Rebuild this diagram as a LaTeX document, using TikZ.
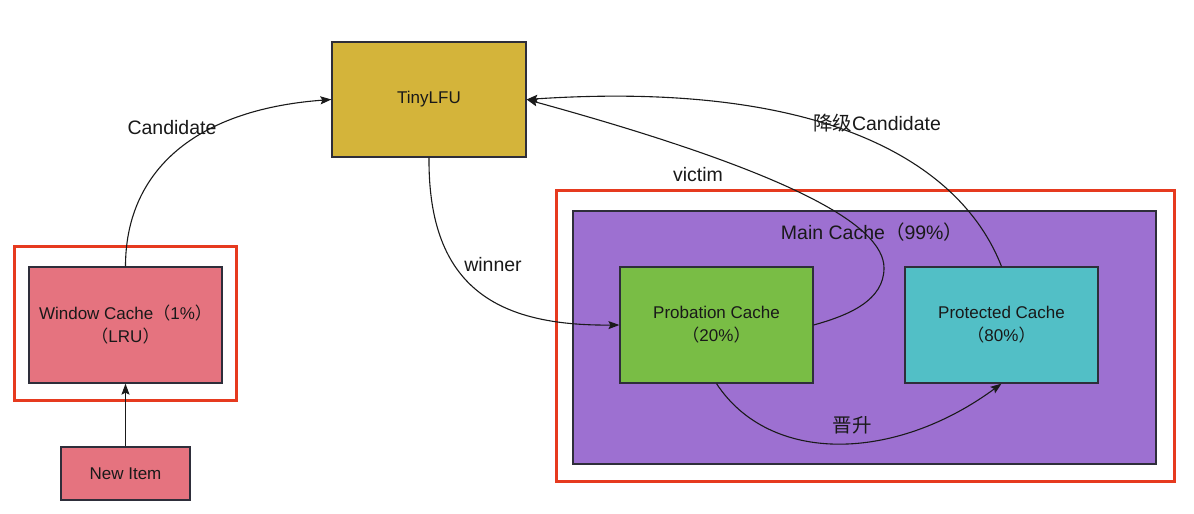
\documentclass[tikz,border=0pt]{standalone}
\usepackage{fontspec}
\setmainfont{Liberation Sans}
\newfontfamily\cjk{Noto Sans CJK SC}
\usetikzlibrary{arrows.meta}
\definecolor{winred}{HTML}{E5737F}
\definecolor{tinyyellow}{HTML}{D4B43A}
\definecolor{mainpurple}{HTML}{9D70D1}
\definecolor{probgreen}{HTML}{79BD45}
\definecolor{protcyan}{HTML}{52BFC6}
\definecolor{redline}{HTML}{E63A1F}
\definecolor{boxline}{HTML}{2E2E3A}
\definecolor{connline}{HTML}{1A1A1A}
\newcommand\myboxfont{\fontsize{17}{23}\selectfont}
\newcommand\mylblfont{\fontsize{19.5}{23}\selectfont}
\begin{document}
\begin{tikzpicture}[x=1pt,y=-1pt,
  box/.style={draw=boxline,line width=1.2pt,inner sep=0pt,align=center,font=\myboxfont,text=black!90},
  outline/.style={draw=redline,line width=3pt,inner sep=0pt},
  conn/.style={draw=connline,line width=1.1pt,-{Stealth[length=11pt,width=8pt,inset=2pt]}},
  lbl/.style={font=\mylblfont,inner sep=0pt,text=black!90}]
\useasboundingbox[fill=white] (0,0) rectangle (1194,514);
% frames
\node[outline, minimum width=222pt, minimum height=154pt] (winframe) at (125,323) {};
\node[outline, minimum width=618pt, minimum height=291pt] (mainframe) at (865,335.5) {};
% main cache
\node[box, fill=mainpurple, minimum width=583pt, minimum height=253pt] (main) at (864.5,337.5) {};
\node[lbl] (mainlbl) at (872,232) {Main Cache{\cjk （}99\%{\cjk ）}};
% boxes
\node[box, fill=winred, minimum width=193pt, minimum height=116pt] (win) at (125.5,325) {Window Cache{\cjk （}1\%{\cjk ）}\\{\cjk （}LRU{\cjk ）}};
\node[box, fill=winred, minimum width=129pt, minimum height=53pt] (newitem) at (125.5,473.5) {New Item};
\node[box, fill=tinyyellow, minimum width=194pt, minimum height=115pt] (tiny) at (429,99.5) {TinyLFU};
\node[box, fill=probgreen, minimum width=193pt, minimum height=116pt] (prob) at (716.5,325) {Probation Cache\\{\cjk （}20\%{\cjk ）}};
\node[box, fill=protcyan, minimum width=193pt, minimum height=116pt] (prot) at (1001.5,325) {Protected Cache\\{\cjk （}80\%{\cjk ）}};
% connectors
\coordinate (vturn) at (884,268);
\draw[conn] (newitem.north) -- (win.south);
\draw[conn] (win.north) .. controls (125.5,175) and (190,110) .. (tiny.west);
\draw[conn] (tiny.south) .. controls (428,290) and (500,326) .. (prob.west);
\draw[conn] (prob.east) .. controls (850,315) and (884,300) .. (vturn) .. controls (884,225) and (790,172) .. (tiny.east);
\draw[conn] (prot.north) .. controls (960,160) and (820,80) .. (tiny.east);
\draw[conn] (prob.south) .. controls (770,465) and (895,462) .. (prot.south);
% labels
\node[lbl] (lcand) at (172,128) {Candidate};
\node[lbl] (lwin) at (493,265) {winner};
\node[lbl] (lvic) at (698,175) {victim};
\node[lbl] (ldown) at (877,123) {{\cjk 降级}Candidate};
\node[lbl] (lpro) at (852,425) {{\cjk 晋升}};
\end{tikzpicture}
\end{document}
